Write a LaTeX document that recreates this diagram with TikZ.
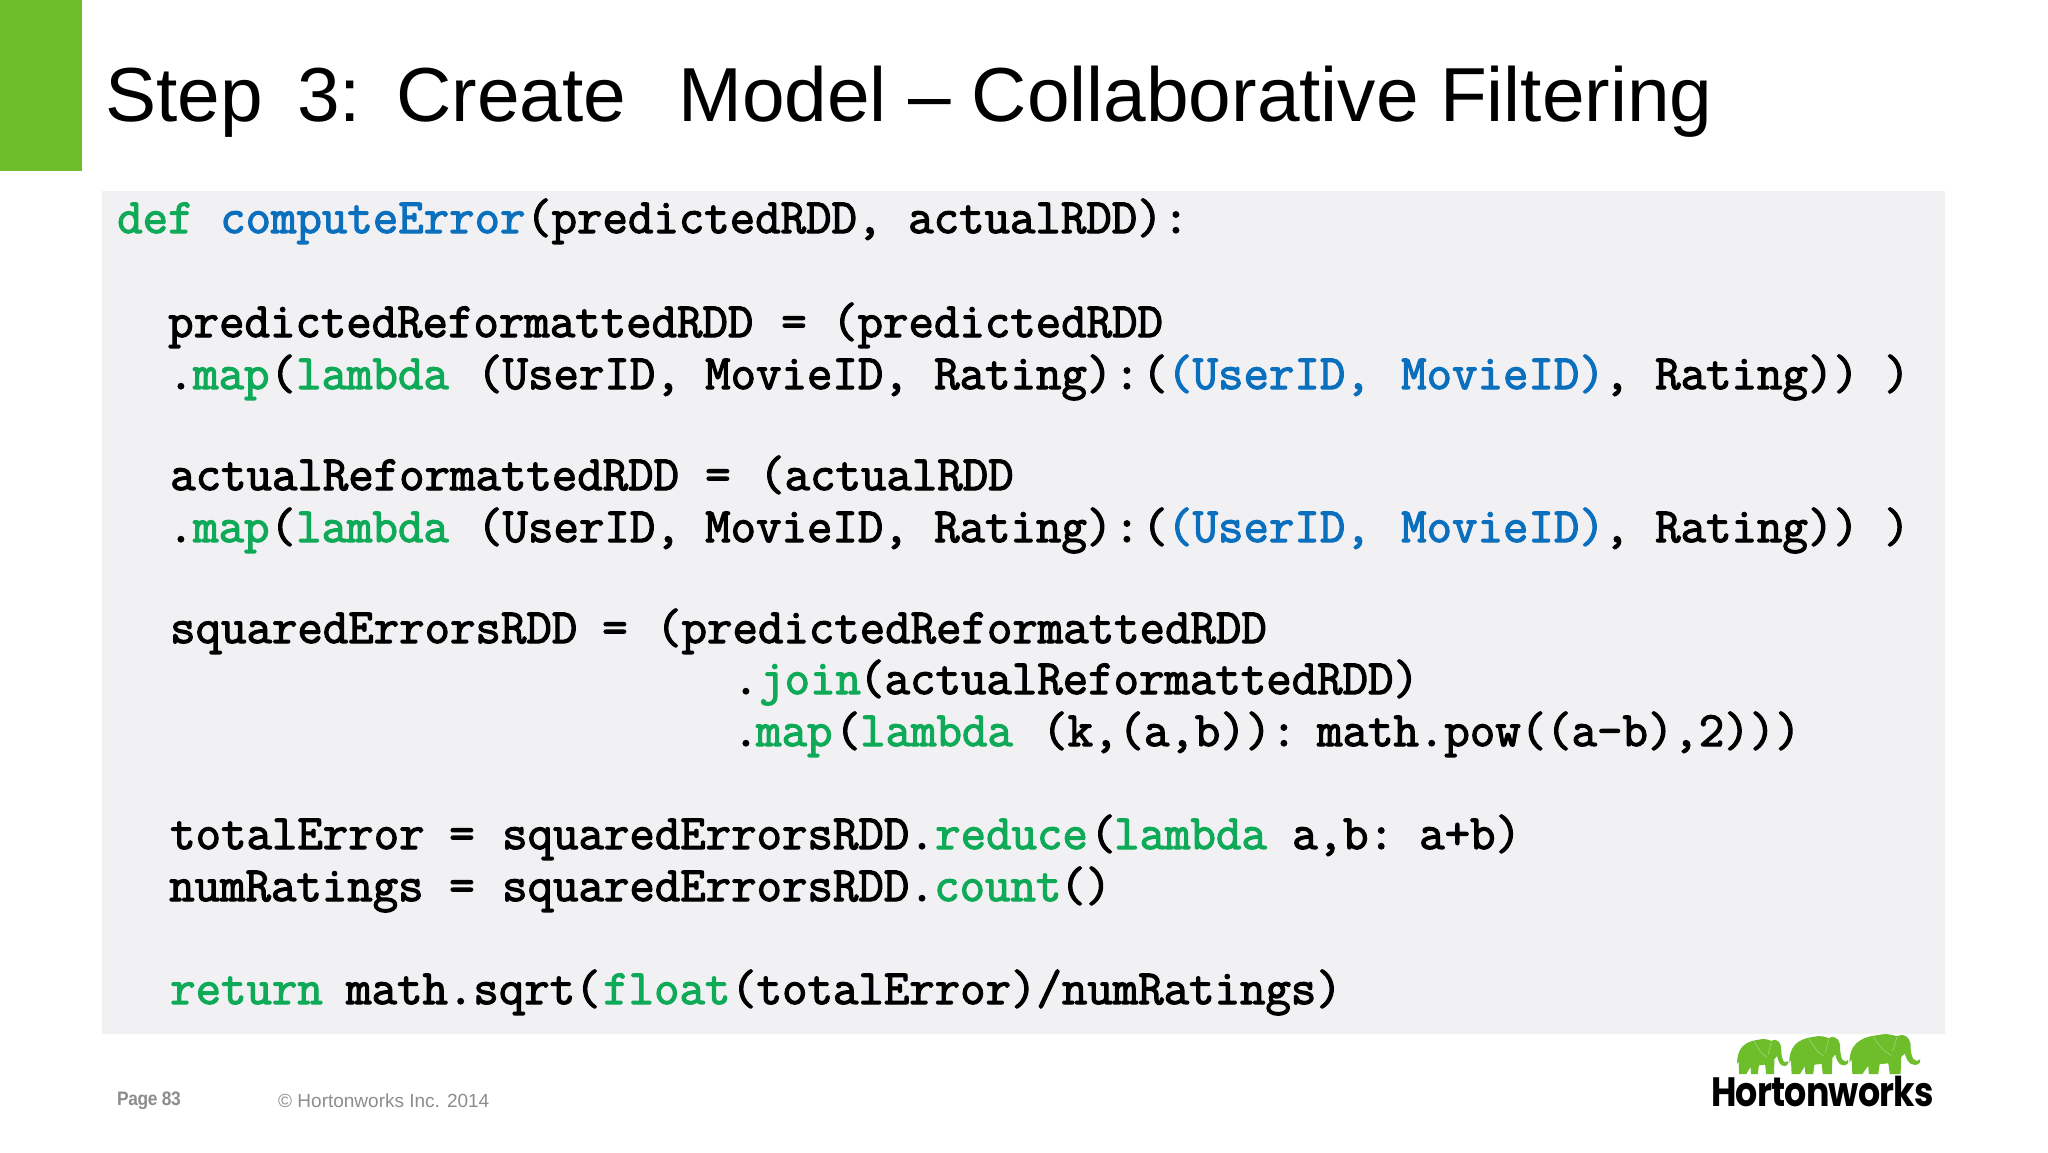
\documentclass[tikz,border=0pt]{standalone}
\usepackage{fontspec}
\setmainfont{Liberation Sans}
\setmonofont{Latin Modern Mono}[FakeBold=2.4]
\newfontfamily\logofont{Poppins}[LetterSpace=-2, FakeStretch=0.85]
\newfontfamily\pagefont{Liberation Sans}[LetterSpace=-2, FakeStretch=0.89]
\usetikzlibrary{positioning}

\definecolor{barGreen}{HTML}{6EBE2C}
\definecolor{panelGray}{HTML}{F1F0F3}
\definecolor{kwGreen}{HTML}{0FAA58}
\definecolor{idBlue}{HTML}{0A70BE}
\definecolor{footGray}{HTML}{8B8D8F}

\tikzset{
    title/.style={anchor=base west, inner sep=0pt, font=\fontsize{76.6}{80}\selectfont},
    code/.style={anchor=base west, inner sep=0pt, font=\fontsize{49.4}{52}\ttfamily},
    kw/.style={code, text=kwGreen},
    ident/.style={code, text=idBlue},
    foot/.style={anchor=base west, inner sep=0pt, text=footGray},
    elephant/.pic={
        \fill[barGreen] (0.02,0.28) .. controls (0.02,0.7) and (0.15,0.9) .. (0.42,0.95)
            .. controls (0.55,1) and (0.62,0.95) .. (0.68,0.92)
            .. controls (0.8,1.02) and (0.88,0.85) .. (0.87,0.62)
            .. controls (0.88,0.4) and (0.92,0.25) .. (1,0.36)
            -- (1,0.28) .. controls (0.92,0.14) and (0.82,0.25) .. (0.79,0.5)
            -- (0.74,0.42) -- (0.73,0) -- (0.58,0) -- (0.56,0.26)
            -- (0.44,0.24) -- (0.42,0) -- (0.29,0) -- (0.28,0.2)
            -- (0.2,0) -- (0.06,0) -- (0.05,0.36) -- cycle;
        \draw[white!40!barGreen, line width=0.5pt] (0.35,0.9) -- (0.48,0.6) -- (0.6,0.45)
            (0.68,0.9) -- (0.62,0.55);
    },
}

\begin{document}
\begin{tikzpicture}[x=1pt, y=-1pt]
    \useasboundingbox (0,0) rectangle (2048,1152);
    \fill[white] (0,0) rectangle (2048,1152);
    \fill[barGreen] (0,0) rectangle (82,171);
    \fill[panelGray] (102,191) rectangle (1945,1034);

    % heading
    \node[title] (stepword) at (105,121) {Step};
    \node[title] (stepnum) at (297,121) {3:};
    \node[title] (create) at (396,121) {Create};
    \node[title] (model) at (678,121) {Model -- Collaborative Filtering};

    % def line
    \node[kw] (def) at (117,233) {def};
    \node[ident] (computeerror) at (220,233) {computeError};
    \node[code] (predarg) at (526,233) {(predictedRDD,};
    \node[code] (actualarg) at (908,233) {actualRDD)};
    \node[code] (defcolon) at (1163,233) {:};

    % reformatting
    \node[code] (predname) at (168,337) {predictedReformattedRDD};
    \node[code] (predeq) at (781,337) {=};
    \node[code] (predopen) at (832,337) {(predictedRDD};
    \node[code] (actname) at (170,490) {actualReformattedRDD};
    \node[code] (acteq) at (705,490) {=};
    \node[code] (actopen) at (759,490) {(actualRDD};

    \foreach \ly/\ln in {389/a, 542/b} {
        \node[code] (dot\ln) at (168,\ly) {.};
        \node[kw] (map\ln) at (193,\ly) {map};
        \node[code] (paren\ln) at (270,\ly) {(};
        \node[kw] (lambda\ln) at (296,\ly) {lambda};
        \node[code] (user\ln) at (477,\ly) {(UserID,};
        \node[code] (movie\ln) at (705,\ly) {MovieID,};
        \node[code] (rating\ln) at (934,\ly) {Rating)};
        \node[code] (colon\ln) at (1114,\ly) {:};
        \node[code] (open\ln) at (1142,\ly) {(};
        \node[ident] (keyuser\ln) at (1167,\ly) {(UserID,};
        \node[ident] (keymovie\ln) at (1401,\ly) {MovieID)};
        \node[code] (comma\ln) at (1604,\ly) {,};
        \node[code] (val\ln) at (1655,\ly) {Rating))};
        \node[code] (close\ln) at (1884,\ly) {)};
    }

    % squared errors
    \node[code] (sqname) at (170,643) {squaredErrorsRDD};
    \node[code] (sqeq) at (602,643) {=};
    \node[code] (sqopen) at (656,643) {(predictedReformattedRDD};
    \node[code] (joindot) at (733,694) {.};
    \node[kw] (join) at (759,694) {join};
    \node[code] (joinarg) at (859,694) {(actualReformattedRDD)};
    \node[code] (mapdot) at (733,746) {.};
    \node[kw] (sqmap) at (756,746) {map};
    \node[code] (sqparen) at (835,746) {(};
    \node[kw] (sqlambda) at (860,746) {lambda};
    \node[code] (sqargs) at (1042,746) {(k,(a,b)):};
    \node[code] (sqpow) at (1317,746) {math.pow((a-b),2)))};

    % totals
    \node[code] (totname) at (170,849) {totalError};
    \node[code] (toteq) at (449,849) {=};
    \node[code] (totrdd) at (502,849) {squaredErrorsRDD.};
    \node[kw] (reduce) at (935,849) {reduce};
    \node[code] (redparen) at (1090,849) {(};
    \node[kw] (redlambda) at (1114,849) {lambda};
    \node[code] (redargs) at (1292,849) {a,b:};
    \node[code] (redsum) at (1419,849) {a+b)};
    \node[code] (numname) at (169,901) {numRatings};
    \node[code] (numeq) at (449,901) {=};
    \node[code] (numrdd) at (502,901) {squaredErrorsRDD.};
    \node[kw] (count) at (934,901) {count};
    \node[code] (countparen) at (1060,901) {()};

    % return line
    \node[kw] (ret) at (170,1004) {return};
    \node[code] (sqrt) at (346,1004) {math.sqrt(};
    \node[kw] (float) at (603,1004) {float};
    \node[code] (floatarg) at (731,1004) {(totalError)/numRatings)};

    % footer
    \node[foot, font=\fontsize{19.5}{22}\pagefont\bfseries] (pageno) at (117,1105) {Page 83};
    \node[foot, font=\fontsize{19}{22}\selectfont] (copyright) at (278,1107) {© Hortonworks Inc. 2014};

    % logo
    \coordinate (calf) at (1736,1074);
    \coordinate (cow) at (1788,1074);
    \coordinate (bull) at (1848,1074);
    \pic[x=52pt, y=36pt] at (calf) {elephant};
    \pic[x=60pt, y=39pt] at (cow) {elephant};
    \pic[x=72pt, y=41pt] at (bull) {elephant};
    \node[anchor=base west, inner sep=0pt, font=\fontsize{41}{44}\logofont\bfseries] (logo) at (1711,1106) {Hortonworks};
\end{tikzpicture}
\end{document}
